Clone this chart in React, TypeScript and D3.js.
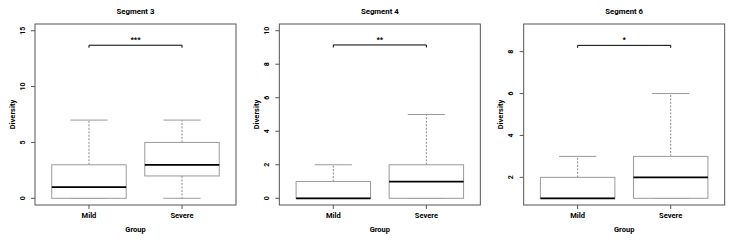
import React from "react";
import * as d3 from "d3";

const groups = ["Mild", "Severe"];
const segmentTitles = ["Segment 3", "Segment 4", "Segment 6"];
// [min, Q1, median, Q3, max]
const mildStats = [
  [0, 0, 1, 3, 7],
  [0, 0, 0, 1, 2],
  [1, 1, 1, 2, 3],
];
const severeStats = [
  [0, 2, 3, 5, 7],
  [0, 0, 1, 2, 5],
  [1, 1, 2, 3, 6],
];
const yLimits = [
  [0, 15],
  [0, 10],
  [1, 9],
];
const yTicks = [
  [0, 5, 10, 15],
  [0, 2, 4, 6, 8, 10],
  [2, 4, 6, 8],
];
const bracketHeights = [13.7, 9.15, 8.3];
const sigLabels = ["***", "**", "*"];

const W = 733;
const H = 240;
const panelW = W / 3;
const FONT = "Roboto, 'Liberation Sans', Arial, sans-serif";
const axisColor = "#555";
const boxColor = "#9a9a9a";

function Panel({ idx }: { idx: number }) {
  const ox = idx * panelW;
  const left = ox + 35;
  const right = ox + 236;
  const top = 24;
  const bottom = 205;
  const [lo, hi] = yLimits[idx];
  const r = hi - lo;
  const y = d3.scaleLinear().domain([lo - 0.04 * r, hi + 0.04 * r]).range([bottom, top]);
  const x = d3.scaleLinear().domain([0.42, 2.58]).range([left, right]);
  const half = x(0.4) - x(0);
  const stapleHalf = x(0.2) - x(0);
  const stats = [mildStats[idx], severeStats[idx]];
  const cx = (left + right) / 2;
  const by = y(bracketHeights[idx]);
  return (
    <g>
      <text x={cx} y={13.5} textAnchor="middle" fontSize={7.8} fontWeight="bold" fontFamily={FONT} fill="#000">
        {segmentTitles[idx]}
      </text>
      {stats.map((s, i) => {
        const c = x(i + 1);
        return (
          <g key={i}>
            <line x1={c} x2={c} y1={y(s[3])} y2={y(s[4])} stroke="#888" strokeWidth={1} strokeDasharray="2,1.5" />
            <line x1={c} x2={c} y1={y(s[1])} y2={y(s[0])} stroke="#888" strokeWidth={1} strokeDasharray="2,1.5" />
            <line x1={c - stapleHalf} x2={c + stapleHalf} y1={y(s[4])} y2={y(s[4])} stroke={boxColor} strokeWidth={1} />
            <line x1={c - stapleHalf} x2={c + stapleHalf} y1={y(s[0])} y2={y(s[0])} stroke={boxColor} strokeWidth={1} />
            <rect x={c - half} y={y(s[3])} width={2 * half} height={y(s[1]) - y(s[3])} fill="#fff" stroke={boxColor} strokeWidth={1} />
            <line x1={c - half} x2={c + half} y1={y(s[2])} y2={y(s[2])} stroke="#000" strokeWidth={1.7} />
          </g>
        );
      })}
      <rect x={left} y={top} width={right - left} height={bottom - top} fill="none" stroke={axisColor} strokeWidth={1} />
      {yTicks[idx].map((t) => (
        <g key={t}>
          <line x1={left - 4} x2={left} y1={y(t)} y2={y(t)} stroke={axisColor} strokeWidth={1} />
          <text
            transform={`translate(${left - 10.5},${y(t)}) rotate(-90)`}
            textAnchor="middle"
            fontSize={7}
            fontWeight="bold"
            fontFamily={FONT}
            fill="#000"
          >
            {t}
          </text>
        </g>
      ))}
      {groups.map((g, i) => (
        <g key={g}>
          <line x1={x(i + 1)} x2={x(i + 1)} y1={bottom} y2={bottom + 4} stroke={axisColor} strokeWidth={1} />
          <text x={x(i + 1)} y={218} textAnchor="middle" fontSize={7.5} fontWeight="bold" fontFamily={FONT} fill="#000">
            {g}
          </text>
        </g>
      ))}
      <text x={cx} y={232} textAnchor="middle" fontSize={7.5} fontWeight="bold" fontFamily={FONT} fill="#000">
        Group
      </text>
      <text
        transform={`translate(${ox + 14.5},${(top + bottom) / 2}) rotate(-90)`}
        textAnchor="middle"
        fontSize={7.5}
        fontWeight="bold"
        fontFamily={FONT}
        fill="#000"
      >
        Diversity
      </text>
      <path
        d={`M${x(1)},${by + 2.5}V${by}H${x(2)}V${by + 2.5}`}
        fill="none"
        stroke="#000"
        strokeWidth={1}
      />
      <text x={(x(1) + x(2)) / 2} y={by - 3} textAnchor="middle" fontSize={7.5} fontWeight="bold" fontFamily={FONT} fill="#000">
        {sigLabels[idx]}
      </text>
    </g>
  );
}

export default function App() {
  return (
    <svg
      width={W}
      height={H}
      style={{ position: "absolute", left: 0, top: 0, background: "#fff" }}
    >
      <rect width={W} height={H} fill="#fff" />
      {[0, 1, 2].map((i) => (
        <Panel key={i} idx={i} />
      ))}
    </svg>
  );
}
